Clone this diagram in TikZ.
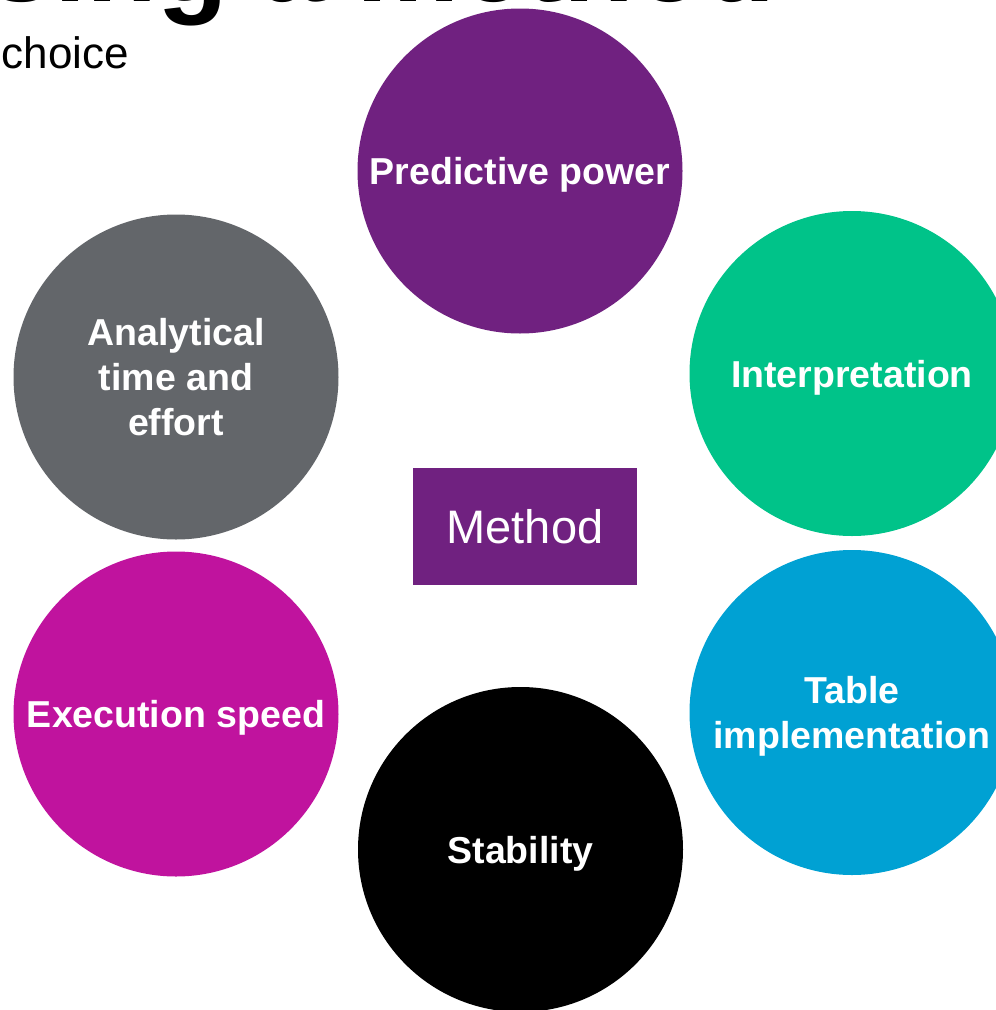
\documentclass[tikz,border=0pt]{standalone}
\usepackage{fontspec}
\setmainfont{Liberation Sans}
\definecolor{mpurple}{RGB}{112,33,128}
\definecolor{mgreen}{RGB}{0,195,137}
\definecolor{mgray}{RGB}{99,102,106}
\definecolor{mmagenta}{RGB}{192,19,158}
\definecolor{mblue}{RGB}{0,161,211}
\begin{document}
\begin{tikzpicture}[x=1pt,y=-1pt,
  factor/.style={circle,minimum size=325pt,inner sep=0pt,text=white,
    align=center,text depth=0pt,font=\fontsize{37.5}{45}\selectfont\bfseries},
  hub/.style={fill=mpurple,minimum width=224pt,minimum height=117pt,
    inner sep=0pt,text=white,font=\fontsize{47}{56}\selectfont}]
\useasboundingbox (0,0) rectangle (996,1010);
\clip (0,0) rectangle (996,1010);
% heading, running off the top and left edges
\node[anchor=base east,inner sep=0pt,font=\fontsize{116}{130}\selectfont\bfseries]
  (title) at (776,1) {Choosing a method};
\node[anchor=base east,inner sep=0pt,font=\fontsize{44}{52}\selectfont]
  (sub) at (129,68) {choice};
% the six factors around the method
\node[factor,fill=mpurple] (pred) at (520,171) {Predictive power};
\node[factor,fill=mgreen] (interp) at (852,373.5) {Interpretation};
\node[factor,fill=mgray] (effort) at (176,377) {Analytical\\time and\\effort};
\node[factor,fill=mmagenta] (speed) at (176,714) {Execution speed};
\node[factor,fill=mblue] (table) at (852,712.5) {Table\\implementation};
\node[factor,fill=black] (stab) at (520.5,849.5) {Stability};
% central box
\node[hub] (method) at (525,526.5) {Method};
\end{tikzpicture}
\end{document}
